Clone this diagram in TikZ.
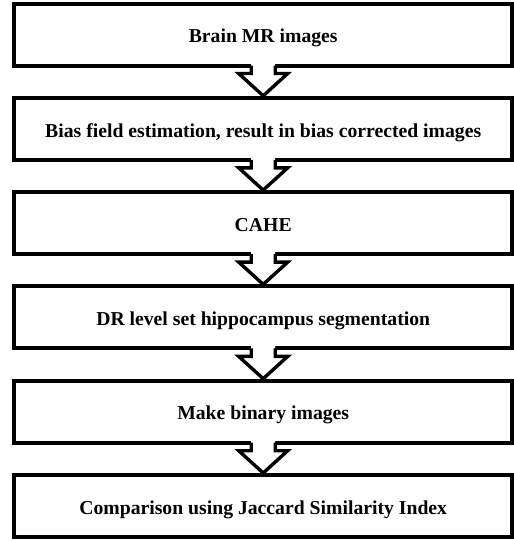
\documentclass[tikz,border=0pt]{standalone}
\usepackage{fontspec}
\setmainfont{Liberation Serif}
\usepackage{tikz}
\usetikzlibrary{positioning,calc}

\begin{document}
\begin{tikzpicture}[x=1pt,y=-1pt]
\tikzstyle{every node}+=[inner sep=0pt,outer sep=0pt]
\tikzstyle{stage}=[draw,line width=4pt,minimum width=498pt,minimum height=62pt,
  font=\fontsize{19.7}{22}\selectfont\bfseries,text height=16.4pt,text depth=0pt]
\tikzstyle{flow}=[line width=3.4pt,line join=miter]
\useasboundingbox (0,0) rectangle (514,541);
\node [stage] (s1) at (263.2,34.5) {Brain MR images};
\node [stage,below=32.3pt of s1] (s2) {Bias field estimation, result in bias corrected images};
\node [stage,below=32.3pt of s2] (s3) {CAHE};
\node [stage,below=32.3pt of s3] (s4) {DR level set hippocampus segmentation};
\node [stage,below=32.3pt of s4] (s5) {Make binary images};
\node [stage,below=32.3pt of s5] (s6) {Comparison using Jaccard Similarity Index};
% block arrows between the stages
\foreach \a/\b in {s1/s2,s2/s3,s3/s4,s4/s5,s5/s6}{
  \fill [white] ($(\a.south)+(-12,-3)$) -- ($(\a.south)+(-12,8)$) -- ($(\a.south)+(-24.5,8)$)
    -- ($(\b.north)+(0,-2)$) -- ($(\a.south)+(24.5,8)$) -- ($(\a.south)+(12,8)$)
    -- ($(\a.south)+(12,-3)$) -- cycle;
  \draw [flow] ($(\a.south)+(-12,0)$) -- ($(\a.south)+(-12,8)$) -- ($(\a.south)+(-24.5,8)$)
    -- ($(\b.north)+(0,-2)$) -- ($(\a.south)+(24.5,8)$) -- ($(\a.south)+(12,8)$)
    -- ($(\a.south)+(12,0)$);
}
\end{tikzpicture}
\end{document}
